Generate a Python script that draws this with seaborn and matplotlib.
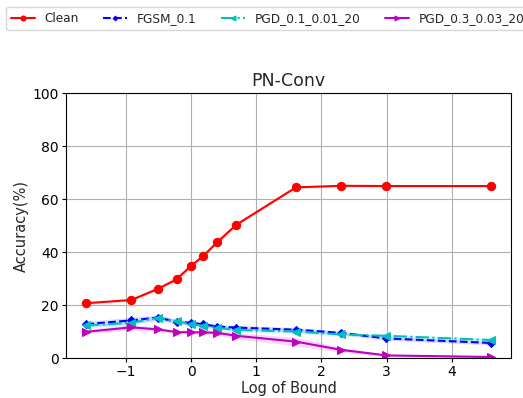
import numpy as np
import pandas as pd
import seaborn as sns
import matplotlib
matplotlib.use("Agg")
import matplotlib.pyplot as plt

# Perturbation bounds (x axis is the natural log of these)
bounds = [0.2, 0.4, 0.6, 0.8, 1.0, 1.2, 1.5, 2.0, 5.0, 10.0, 20.0, 100.0]

# Mean accuracy (%) per setting
clean = [20.8, 22.0, 26.2, 29.8, 34.9, 38.5, 43.9, 50.4, 64.5, 65.1, 65.0, 65.0]
fgsm_01 = [12.9, 14.3, 15.4, 13.8, 13.4, 12.8, 12.0, 11.6, 10.8, 9.6, 7.5, 5.8]
pgd_01 = [12.4, 13.4, 15.3, 14.0, 12.9, 12.3, 11.5, 10.7, 10.1, 9.0, 8.5, 6.9]
pgd_03 = [10.0, 11.7, 10.9, 9.9, 9.8, 9.8, 9.6, 8.5, 6.3, 3.2, 1.1, 0.5]

# Spread across runs (std, %)
clean_std = [0.4, 0.4, 0.6, 0.6, 0.8, 0.8, 0.8, 0.6, 0.4, 0.3, 0.3, 0.3]
fgsm_std = [1.0, 1.2, 1.0, 0.9, 0.9, 0.9, 0.8, 0.8, 0.8, 0.7, 0.7, 0.7]
pgd01_std = [0.9, 1.0, 0.9, 0.8, 0.8, 0.8, 0.8, 0.7, 0.7, 0.6, 0.6, 0.6]
pgd03_std = [0.8, 1.0, 0.8, 0.7, 0.7, 0.7, 0.9, 1.2, 1.6, 0.9, 0.4, 0.3]

labels = ["Clean", "FGSM_0.1", "PGD_0.1_0.01_20", "PGD_0.3_0.03_20"]
means = [clean, fgsm_01, pgd_01, pgd_03]
stds = [clean_std, fgsm_std, pgd01_std, pgd03_std]
colors = ["#ff0000", "#0000ff", "#00bfbf", "#bf00bf"]
styles = ["-", "--", "-.", "-"]
markers = ["o", "D", "<", ">"]
msizes = [6, 4, 6, 6]

log_b = np.log(bounds)
rows = []
for lab, m in zip(labels, means):
    for x, v in zip(log_b, m):
        rows.append({"Log of Bound": x, "Accuracy(%)": v, "setting": lab})
df = pd.DataFrame(rows)

sns.set_style("ticks")
plt.rcParams["font.family"] = ["DejaVu Sans"]

fig = plt.figure(figsize=(5.23, 3.98), dpi=100)
ax = fig.add_axes([0.126, 0.0997, 0.852, 0.6659])

for lab, m, s, c, ls, mk, ms in zip(labels, means, stds, colors, styles, markers, msizes):
    sub = df[df["setting"] == lab]
    sns.lineplot(data=sub, x="Log of Bound", y="Accuracy(%)", ax=ax,
                 color=c, linestyle=ls, marker=mk, markersize=ms,
                 markeredgecolor=c, linewidth=1.5, label=lab,
                 errorbar=None)
    ax.fill_between(log_b, np.array(m) - np.array(s), np.array(m) + np.array(s),
                    color=c, alpha=0.15, linewidth=0)

ax.set_ylim(0, 100)
ax.set_yticks([0, 20, 40, 60, 80, 100])
ax.set_xticks([-1, 0, 1, 2, 3, 4])
ax.set_xticklabels(["\u22121", "0", "1", "2", "3", "4"])
ax.grid(True, color="#b0b0b0", linewidth=0.8)
ax.set_axisbelow(True)
for sp in ax.spines.values():
    sp.set_color("black")
    sp.set_linewidth(0.8)
ax.tick_params(axis="both", labelsize=10, colors="black", length=3, width=0.8, pad=2)
ax.set_xlabel("Log of Bound", fontsize=10.5, labelpad=1)
ax.set_ylabel("Accuracy(%)", fontsize=10.5, labelpad=3)
ax.set_title("PN-Conv", fontsize=12.5, pad=5)

handles, labs = ax.get_legend_handles_labels()
ax.get_legend().remove()
fig.legend(handles, labs, loc="upper left", bbox_to_anchor=(6 / 523, 1 - 7 / 398),
           ncol=4, fontsize=8.7, markerscale=0.6, frameon=True, fancybox=True,
           edgecolor="#cccccc", borderaxespad=0)

fig.savefig("out.png", dpi=100)
